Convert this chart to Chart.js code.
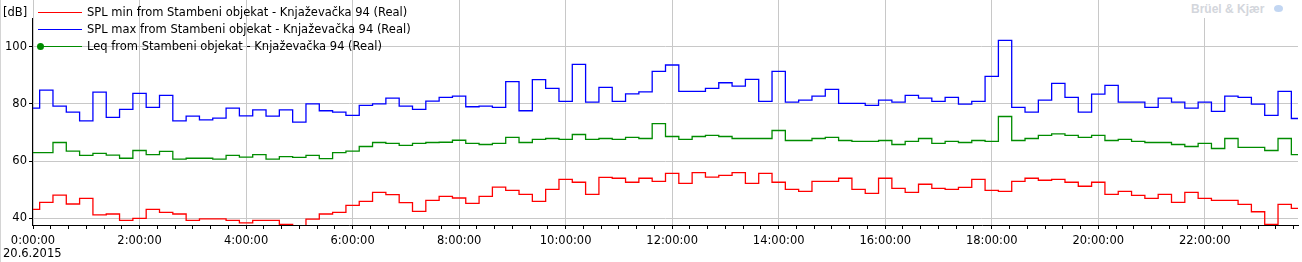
<!DOCTYPE html>
<html>
<head>
<meta charset="utf-8">
<script src="https://cdn.jsdelivr.net/npm/chart.js@4.4.1/dist/chart.umd.min.js"></script>
<style>
  html, body { margin: 0; padding: 0; background: #fff; }
  #wrap { position: relative; width: 1302px; height: 262px; overflow: hidden;
          font-family: "DejaVu Sans", sans-serif; font-size: 11.5px; color: #000; }
  #chart { position: absolute; left: 0; top: 0; }
  .txt { position: absolute; white-space: nowrap; line-height: 17px; }
  .swatch { position: absolute; height: 1px; width: 44px; }
  .dot { position: absolute; width: 7px; height: 7px; border-radius: 50%; }
  #edge { position: absolute; left: 0; top: 0; width: 1px; height: 262px; background: #d4d4d4; }
  #logo { position: absolute; left: 1182px; top: 0; width: 120px; height: 18px; background: #fff; }
  #logo span { position: absolute; left: 9px; top: 2px; font-weight: bold; color: #d3d6dc;
               font-family: "Liberation Sans", sans-serif; font-size: 12px; }
  #logo i { position: absolute; left: 92px; top: 5px; width: 9px; height: 7px; border-radius: 50%;
            background: #c2d6f2; }
</style>
</head>
<body>
<div id="wrap">
  <canvas id="chart" width="1302" height="262"></canvas>
  <div id="edge"></div>
  <div id="logo"><span>Brüel &amp; Kjær</span><i></i></div>
  <div class="txt" style="left:3px; top:4px;">[dB]</div>
  <div class="txt" style="left:3px; top:245px;">20.6.2015</div>
  <div id="legend"></div>
</div>
<script>
// 15 minute values, 20.6.2015 00:00 - 23:45
const splMin = [
  43.1, 45.6, 48.1, 45.0, 47.0, 41.2, 41.5, 39.3, 40.0, 43.1, 42.1, 41.5, 39.3, 39.8, 39.8, 39.3,
  38.4, 39.3, 39.3, 37.9, 36.5, 39.7, 41.5, 42.1, 44.5, 45.9, 49.1, 48.3, 45.5, 42.4, 46.3, 47.7,
  47.1, 45.2, 47.7, 50.9, 49.8, 48.4, 45.9, 50.1, 53.6, 52.6, 48.4, 54.3, 54.0, 52.6, 54.0, 52.9,
  55.7, 52.2, 56.0, 54.4, 55.0, 56.0, 52.2, 55.7, 52.6, 50.1, 49.4, 52.9, 52.9, 54.0, 50.1, 48.7,
  54.0, 50.5, 49.1, 51.9, 50.5, 50.1, 50.8, 53.6, 49.8, 49.4, 52.9, 54.0, 53.3, 53.6, 52.6, 51.2,
  52.6, 48.4, 49.4, 48.0, 47.0, 48.4, 45.6, 49.1, 47.0, 46.3, 46.3, 44.9, 42.3, 37.9, 44.9, 43.5
];
const splMax = [
  78.5, 84.8, 79.2, 77.1, 74.1, 84.1, 75.3, 78.1, 83.7, 78.8, 83.0, 74.1, 75.7, 74.4, 75.0, 78.5,
  75.8, 77.9, 75.7, 77.9, 73.6, 80.0, 77.6, 77.1, 76.0, 79.5, 80.0, 82.0, 79.2, 78.1, 81.0, 82.3,
  82.7, 79.0, 79.2, 78.8, 87.8, 77.6, 88.5, 85.4, 80.9, 93.8, 80.6, 85.8, 80.9, 83.5, 84.2, 91.4,
  93.6, 84.4, 84.4, 85.4, 87.4, 86.2, 88.6, 80.9, 91.4, 80.6, 81.3, 82.7, 85.1, 80.2, 80.2, 79.5,
  81.3, 80.6, 83.0, 82.0, 80.9, 82.3, 79.9, 80.9, 89.6, 102.2, 78.8, 77.1, 81.3, 87.2, 82.3, 77.1,
  83.4, 86.5, 80.6, 80.6, 78.8, 82.0, 80.6, 78.5, 80.6, 77.4, 82.7, 82.3, 79.9, 76.0, 84.4, 74.9
];
const leq = [
  63.0, 63.0, 66.5, 63.5, 62.0, 62.7, 62.1, 61.0, 63.7, 62.3, 63.4, 60.7, 61.0, 61.0, 60.7, 62.0,
  61.4, 62.3, 60.7, 61.6, 61.3, 62.0, 60.9, 63.0, 63.5, 65.1, 66.5, 66.2, 65.5, 66.2, 66.5, 66.6,
  67.3, 66.2, 65.8, 66.2, 68.3, 66.5, 67.6, 67.9, 67.6, 69.3, 67.6, 67.9, 67.6, 68.3, 67.9, 73.1,
  68.6, 67.6, 68.6, 69.0, 68.6, 67.9, 67.9, 67.9, 70.7, 67.2, 67.2, 67.9, 68.3, 67.2, 66.9, 66.9,
  67.2, 65.8, 66.9, 67.9, 66.2, 66.9, 66.5, 67.2, 66.9, 75.6, 67.2, 67.9, 69.0, 69.5, 69.0, 68.3,
  69.0, 67.2, 67.6, 66.9, 66.5, 66.5, 65.8, 65.1, 66.2, 64.4, 67.9, 64.8, 64.8, 63.7, 67.9, 62.3
];

const seriesNames = [
  "SPL min from Stambeni objekat - Knjaževačka 94 (Real)",
  "SPL max from Stambeni objekat - Knjaževačka 94 (Real)",
  "Leq from Stambeni objekat - Knjaževačka 94 (Real)"
];
const seriesColors = ["#ff0000", "#0000ff", "#008c00"];
const xTickLabels = ["0:00:00", "2:00:00", "4:00:00", "6:00:00", "8:00:00", "10:00:00",
                     "12:00:00", "14:00:00", "16:00:00", "18:00:00", "20:00:00", "22:00:00"];
const yTickValues = [40, 60, 80, 100];

// time of each 15 min slot, in hours
const times = leq.map((v, i) => i * 0.25);
const toPoints = arr => arr.map((v, i) => ({ x: times[i], y: v }));

// legend, drawn over the plot like the original
function buildLegend() {
  const box = document.getElementById("legend");
  seriesNames.forEach((name, i) => {
    const cy = 12 + i * 17;
    const sw = document.createElement("div");
    sw.className = "swatch";
    sw.style.cssText = `left:38px; top:${cy}px; background:${seriesColors[i]};`;
    box.appendChild(sw);
    const t = document.createElement("div");
    t.className = "txt";
    t.style.cssText = `left:87px; top:${cy - 8}px;`;
    t.textContent = name;
    box.appendChild(t);
  });
  const dot = document.createElement("div");
  dot.className = "dot";
  dot.style.cssText = `left:37px; top:${12 + 2 * 17 - 3}px; background:${seriesColors[2]};`;
  box.appendChild(dot);
}

// y axis line starts a bit below the top, under the [dB] label
const yAxisLine = {
  id: "yAxisLine",
  afterDraw(chart) {
    const { ctx, chartArea } = chart;
    const x = Math.round(chartArea.left) - 0.5;
    ctx.save();
    ctx.strokeStyle = "#000";
    ctx.lineWidth = 1;
    ctx.beginPath();
    ctx.moveTo(x, 18);
    ctx.lineTo(x, chartArea.bottom + 1);
    ctx.stroke();
    ctx.restore();
  }
};

function noPadding(scale) {
  scale.paddingTop = 0;
  scale.paddingBottom = 0;
  scale.paddingLeft = 0;
  scale.paddingRight = 0;
}

Chart.defaults.font.family = "DejaVu Sans";
Chart.defaults.font.size = 11.5;
Chart.defaults.color = "#000";

const datasets = [splMin, splMax, leq].map((arr, i) => ({
  label: seriesNames[i],
  data: toPoints(arr),
  borderColor: seriesColors[i],
  borderWidth: 1.3,
  pointRadius: 0,
  stepped: "middle",
  fill: false
}));

new Chart(document.getElementById("chart").getContext("2d"), {
  type: "line",
  data: { datasets },
  plugins: [yAxisLine],
  options: {
    responsive: false,
    animation: false,
    layout: { padding: { left: 0, top: 0, right: 4, bottom: 0 } },
    plugins: { legend: { display: false }, tooltip: { enabled: false } },
    scales: {
      x: {
        type: "linear",
        min: 0,
        max: 23.75,
        afterBuildTicks: scale => {
          const ticks = [];
          for (let k = 0; k * 20 < 23.75 * 60; k++) ticks.push({ value: k / 3 });
          scale.ticks = ticks;
        },
        afterFit: scale => { scale.height = 37; noPadding(scale); },
        ticks: {
          autoSkip: false,
          maxRotation: 0,
          padding: 5,
          callback: (v, idx) => (idx % 6 === 0 ? xTickLabels[idx / 6] : "")
        },
        grid: {
          color: c => (c.index % 6 === 0 ? "#c8c8c8" : "rgba(0,0,0,0)"),
          tickColor: "#000",
          tickLength: 4
        },
        border: { display: true, color: "#000" }
      },
      y: {
        min: 37.66,
        max: 116.33,
        afterBuildTicks: scale => { scale.ticks = yTickValues.map(v => ({ value: v })); },
        afterFit: scale => { scale.width = 33; noPadding(scale); },
        ticks: { padding: 2 },
        grid: { color: "#c8c8c8", tickColor: "#000", tickLength: 4 },
        border: { display: false }
      }
    }
  }
});

buildLegend();
</script>
</body>
</html>
